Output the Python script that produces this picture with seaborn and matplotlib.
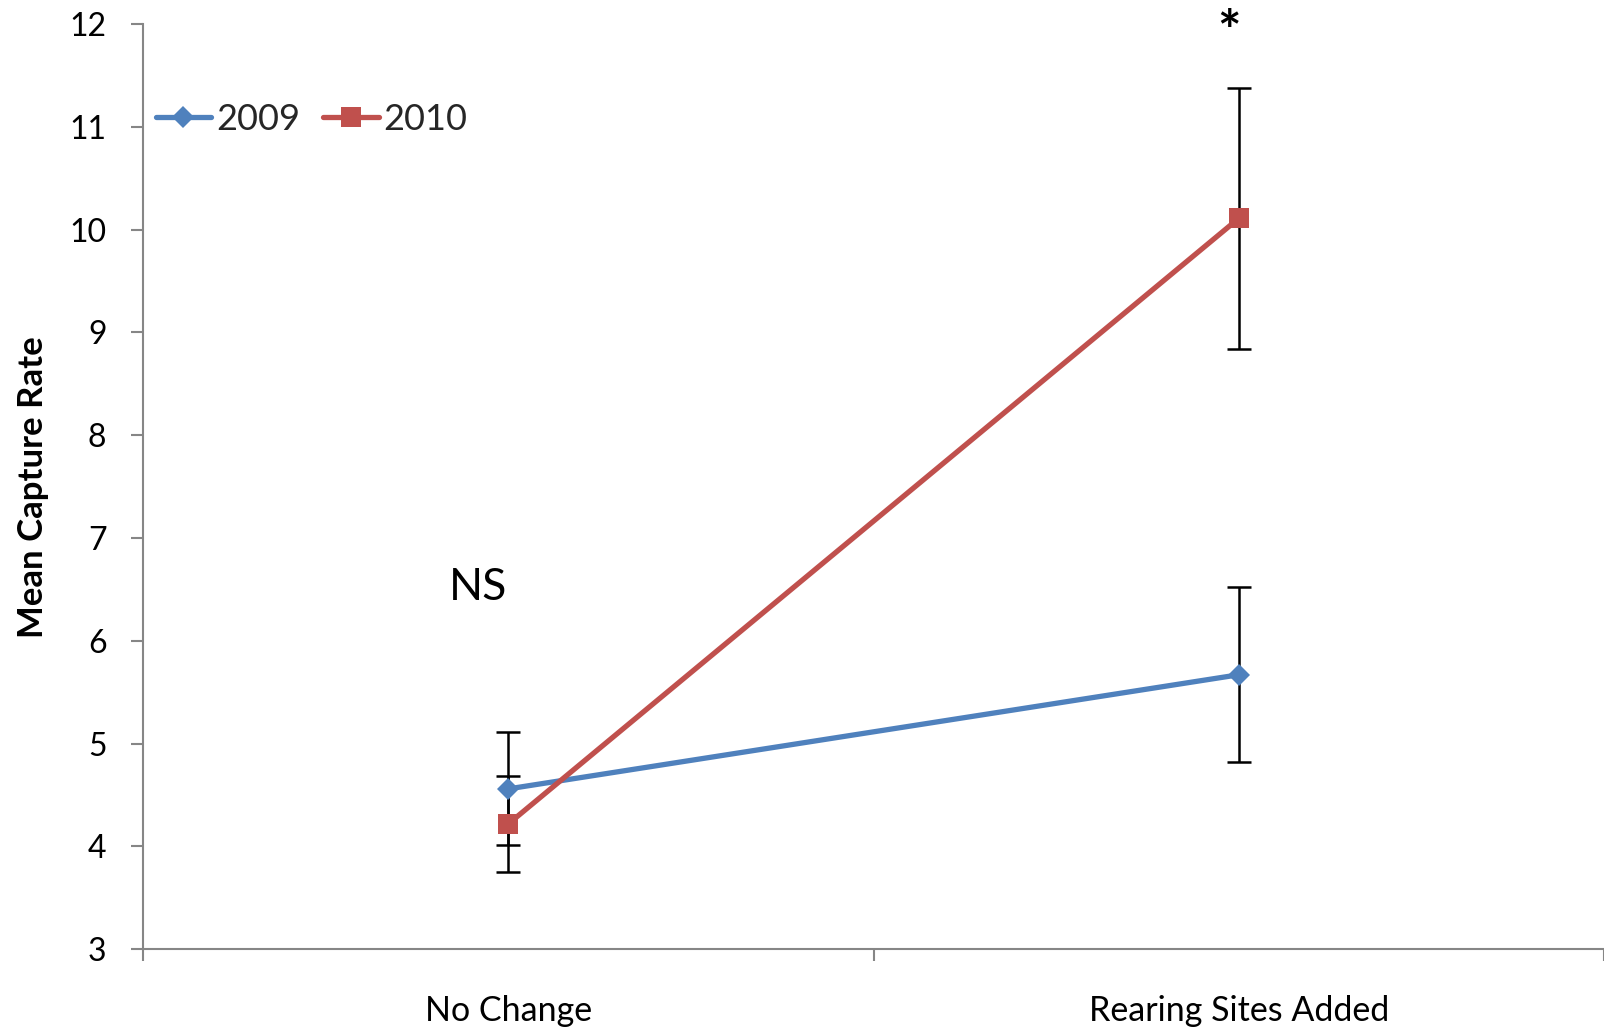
import matplotlib
matplotlib.use("Agg")
import matplotlib.pyplot as plt
import seaborn as sns
import pandas as pd

# Mean capture rate by treatment and year, with error bar half-widths
categories = ["No Change", "Rearing Sites Added"]
years = ["2009", "2010"]
mean_2009 = [4.56, 5.67]
err_2009 = [0.55, 0.85]
mean_2010 = [4.22, 10.11]
err_2010 = [0.47, 1.27]
y_ticks = [3, 4, 5, 6, 7, 8, 9, 10, 11, 12]

df = pd.DataFrame({
    "treatment": categories * 2,
    "year": [years[0]] * 2 + [years[1]] * 2,
    "rate": mean_2009 + mean_2010,
    "err": err_2009 + err_2010,
})

sns.set_theme(style="white")
plt.rcParams["font.family"] = ["Lato", "DejaVu Sans"]

fig = plt.figure(figsize=(16.04, 10.31), dpi=100)
ax = fig.add_axes([0.0893, 0.0793, 0.9107, 0.8974])

colors = {"2009": "#4F81BD", "2010": "#C0504D"}
markers = {"2009": "D", "2010": "s"}
msizes = {"2009": 11, "2010": 15}

for yr in years:
    sub = df[df["year"] == yr]
    ax.errorbar(sub["treatment"], sub["rate"], yerr=sub["err"], fmt="none",
                ecolor="black", elinewidth=1.8, capsize=8.5, capthick=1.8,
                zorder=2)
    sns.lineplot(data=sub, x="treatment", y="rate", color=colors[yr],
                 marker=markers[yr], markersize=msizes[yr],
                 markeredgewidth=0, linewidth=3.8, label=yr, ax=ax,
                 sort=False, zorder=3)

ax.set_xlim(-0.5, 1.5)
ax.set_ylim(3, 12)
ax.set_yticks(y_ticks)
ax.set_xticks([0, 1])
ax.set_xticklabels(categories)
ax.set_xticks([-0.5, 0.5, 1.5], minor=True)
ax.tick_params(axis="x", which="major", length=0, pad=33, labelsize=24.5,
               colors="black")
ax.tick_params(axis="x", which="minor", length=8.5, width=1.5,
               direction="out", color="#868686", bottom=True)
ax.tick_params(axis="y", which="major", length=8.5, width=1.5,
               direction="out", color="#868686", pad=18, labelsize=23,
               left=True, labelcolor="black")

for side in ["top", "right"]:
    ax.spines[side].set_visible(False)
for side in ["left", "bottom"]:
    ax.spines[side].set_color("#868686")
    ax.spines[side].set_linewidth(1.5)

ax.set_xlabel("")
ax.set_ylabel("Mean Capture Rate", fontsize=25, fontweight="bold",
              color="black")
ax.yaxis.set_label_coords(-0.0645, 0.5)

ax.text(-0.041, 6.52, "NS", fontsize=32, ha="center", va="center",
        color="black")
ax.text(0.986, 11.9, "*", fontsize=40, fontweight="bold", ha="center",
        va="center", color="black", clip_on=False)

ax.legend(loc="center left", bbox_to_anchor=(0.0084, 0.897), ncol=2,
          frameon=False, fontsize=26, handlelength=1.55, handletextpad=0.12,
          columnspacing=0.65, borderpad=0, borderaxespad=0)

fig.savefig("out.png", dpi=100)
